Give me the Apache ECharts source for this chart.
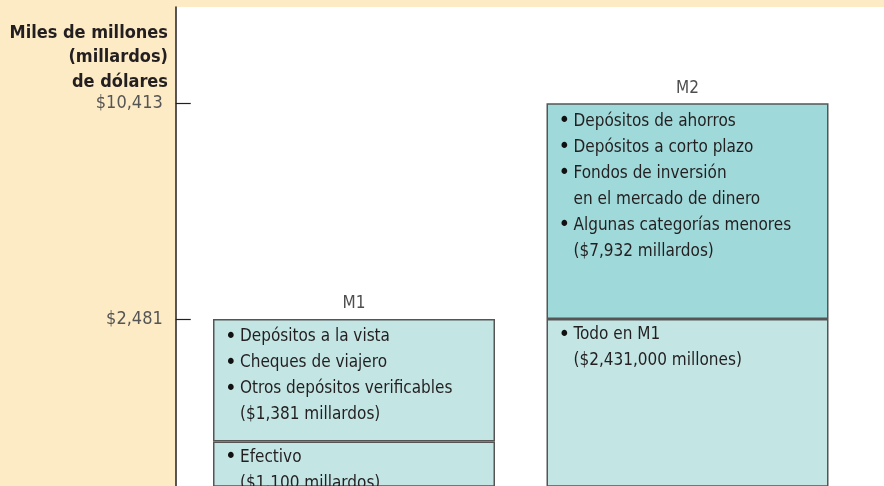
<!DOCTYPE html>
<html><head><meta charset="utf-8">
<script src="https://cdn.jsdelivr.net/npm/echarts@6/dist/echarts.min.js"></script>
<style>html,body{margin:0;padding:0;background:#fff}#c{width:884px;height:486px}</style>
</head><body><div id="c"></div>
<script>
// ---- data ----
const categories = ['M1', 'M2'];
const lowerValues = [1100, 2481];
const upperValues = [1381, 7932];
const tickValues = [2481, 10413];
const tickLabels = ['$2,481', '$10,413'];
const axisTitle = 'Miles de millones\n(millardos)\nde dólares';
const lowerText = [
  ['• Efectivo', '($1,100 millardos)'],
  ['• Todo en M1', '($2,431,000 millones)']
];
const upperText = [
  ['• Depósitos a la vista', '• Cheques de viajero', '• Otros depósitos verificables', '($1,381 millardos)'],
  ['• Depósitos de ahorros', '• Depósitos a corto plazo', '• Fondos de inversión', 'en el mercado de dinero', '• Algunas categorías menores', '($7,932 millardos)']
];

// ---- style ----
const FONT = "'Liberation Sans Narrow','DejaVu Sans Condensed','Liberation Sans',sans-serif";
const BEIGE = '#fdebc6';
const LIGHT = '#c3e6e5';
const DARK = '#a0d9da';
const TEXT = '#231f20';
function richText(lines) {
  return lines.map(l => l.startsWith('• ') ? '{b|•}{t|' + l.slice(2) + '}' : '{b| }{t|' + l + '}').join('\n');
}
const rich = {
  b: { width: 15, fontSize: 22, fontFamily: FONT, color: '#111', lineHeight: 26 },
  t: { fontSize: 17, fontFamily: FONT, color: TEXT, lineHeight: 26 }
};
const totals = lowerValues.map((v, i) => v + upperValues[i]);

const chart = echarts.init(document.getElementById('c'), null, { renderer: 'canvas' });
chart.setOption({
  animation: false,
  backgroundColor: 'transparent',
  graphic: [
    { type: 'rect', z: -10, silent: true, shape: { x: 0, y: 0, width: 176, height: 486 }, style: { fill: BEIGE } },
    { type: 'rect', z: -10, silent: true, shape: { x: 0, y: 0, width: 884, height: 7 }, style: { fill: BEIGE } },
    { type: 'text', z: 10, silent: true, x: 168, y: 21,
      style: { text: axisTitle, align: 'right', verticalAlign: 'top', fontFamily: FONT, fontWeight: 'bold',
        fontSize: 18, lineHeight: 24.5, fill: TEXT } }
  ],
  grid: { left: 187.25, right: 29.75, top: 7, bottom: 0, outerBoundsMode: 'none' },
  xAxis: {
    type: 'category', data: categories,
    axisLine: { show: false }, axisTick: { show: false }, axisLabel: { show: false }, splitLine: { show: false }
  },
  yAxis: {
    type: 'log', logBase: 10, min: 818, max: 19739,
    offset: 11.5,
    axisLine: { show: true, lineStyle: { color: TEXT, width: 1.5 } },
    axisTick: { show: true, inside: true, length: 15, customValues: tickValues, lineStyle: { color: TEXT, width: 1.2 } },
    axisLabel: {
      customValues: tickValues, margin: 13, color: '#555', fontSize: 18, fontFamily: FONT,
      formatter: v => { const i = tickValues.findIndex(t => Math.abs(t - v) < 1); return i >= 0 ? tickLabels[i] : ''; }
    },
    splitLine: { show: false }
  },
  series: [
    {
      type: 'bar', stack: 'total', data: lowerValues, barWidth: 282,
      itemStyle: { color: LIGHT, borderColor: '#555', borderWidth: 1.5 },
      label: { show: true, position: 'insideTopLeft', distance: 0, offset: [12, 3],
        formatter: p => richText(lowerText[p.dataIndex]), rich: rich }
    },
    {
      type: 'bar', stack: 'total', data: upperValues, barWidth: 282,
      itemStyle: { color: p => p.dataIndex === 1 ? DARK : LIGHT, borderColor: '#555', borderWidth: 1.5 },
      label: { show: true, position: 'insideTopLeft', distance: 0, offset: [12, 5],
        formatter: p => richText(upperText[p.dataIndex]), rich: rich }
    },
    {
      type: 'scatter', data: totals, symbolSize: 1, itemStyle: { color: 'transparent' }, z: 5,
      label: { show: true, position: 'top', distance: 6, color: '#222', fontSize: 17, fontFamily: FONT,
        formatter: p => categories[p.dataIndex] }
    }
  ]
});
</script>
</body></html>
